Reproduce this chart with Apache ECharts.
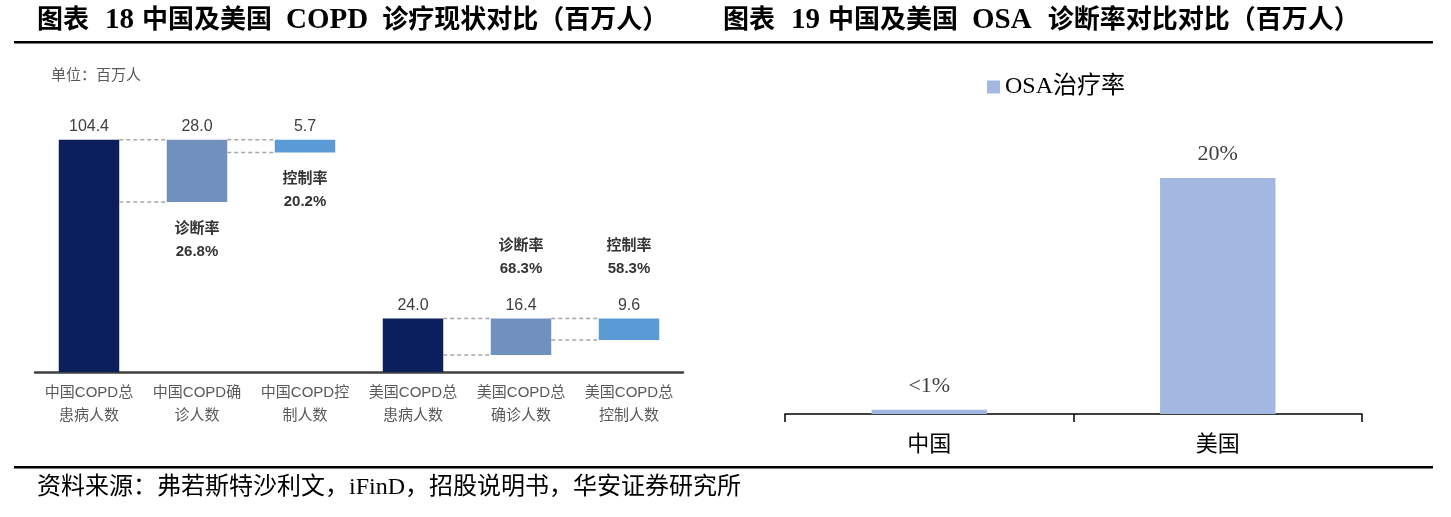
<!DOCTYPE html>
<html><head><meta charset="utf-8">
<script src="https://cdn.jsdelivr.net/npm/echarts@6/dist/echarts.min.js"></script>
<style>html,body{margin:0;padding:0;background:#fff}#c{width:1451px;height:517px}</style>
</head><body><div id="c"></div>
<script>
// ---------------- data ----------------
const copdCategories = ['中国COPD总\n患病人数', '中国COPD确\n诊人数', '中国COPD控\n制人数', '美国COPD总\n患病人数', '美国COPD总\n确诊人数', '美国COPD总\n控制人数'];
const copdValues = [104.4, 28.0, 5.7, 24.0, 16.4, 9.6];
const copdGroups = ['中国', '中国', '中国', '美国', '美国', '美国'];
const copdRateNames = ['', '诊断率', '控制率', '', '诊断率', '控制率'];
const copdRateValues = ['', '26.8%', '20.2%', '', '68.3%', '58.3%'];
const copdUnit = '单位：百万人';

const osaCategories = ['中国', '美国'];
const osaValues = [0.35, 20];
const osaLabels = ['<1%', '20%'];
const osaSeriesName = 'OSA治疗率';

const sourceText = '资料来源：弗若斯特沙利文，iFinD，招股说明书，华安证券研究所';

// ---------------- styles ----------------
const SANS = "'Liberation Sans','Noto Sans CJK SC',sans-serif";
const SERIF = "'Liberation Serif','Noto Sans CJK SC',serif";
const BAR_RATIO = 0.56;
const roleColors = ['#0b1f5c', '#7090bd', '#5b9bd5'];

// ---------------- derived waterfall ----------------
const totalIndex = copdGroups.map(g => copdGroups.indexOf(g));
const baseValues = copdValues.map((v, i) => totalIndex[i] === i ? 0 : +(copdValues[totalIndex[i]] - v).toFixed(2));
const maxCopd = Math.max.apply(null, copdValues);
const connectorData = copdValues
  .map((v, i) => [i, copdValues[totalIndex[i]], baseValues[i]])
  .filter(d => totalIndex[d[0]] !== d[0]);

function renderConnector(params, api) {
  const i = api.value(0);
  const top = api.value(1);
  const base = api.value(2);
  const band = api.size([1, 0])[0];
  const half = band * BAR_RATIO / 2;
  const pPrev = api.coord([i - 1, top]);
  const pTop = api.coord([i, top]);
  const pBase = api.coord([i, base]);
  const x1 = pPrev[0] + half, x2 = pTop[0] - half;
  const dash = { stroke: '#a6a6a6', lineWidth: 1.5, lineDash: [4, 3], fill: null };
  const below = copdValues[totalIndex[i]] > maxCopd / 2;
  return {
    type: 'group',
    children: [
      { type: 'line', shape: { x1: x1, y1: pTop[1], x2: x2, y2: pTop[1] }, style: dash },
      { type: 'line', shape: { x1: x1, y1: pBase[1], x2: x2, y2: pBase[1] }, style: dash },
      {
        type: 'text',
        style: {
          text: copdRateNames[i] + '\n' + copdRateValues[i],
          x: pTop[0],
          y: below ? pBase[1] + 15 : pTop[1] - 38,
          align: 'center', textAlign: 'center',
          verticalAlign: below ? 'top' : 'bottom', textVerticalAlign: below ? 'top' : 'bottom',
          fontSize: 15, fontWeight: 'bold', fontFamily: SANS,
          lineHeight: 23, fill: '#333333'
        }
      }
    ]
  };
}

const chart = echarts.init(document.getElementById('c'), null, { renderer: 'canvas' });

const titleRich = {
  c: { fontSize: 26, fontWeight: 'bold', fontFamily: SERIF, fill: '#000', color: '#000' },
  l: { fontSize: 29, fontWeight: 'bold', fontFamily: 'Liberation Serif', fill: '#000', color: '#000' },
  s1: { width: 16 }, s2: { width: 8 }, s3: { width: 14 }
};

const option = {
  animation: false,
  backgroundColor: '#ffffff',
  grid: [
    { left: 35, top: 105, width: 648, height: 267 },
    { left: 785, top: 119, width: 577, height: 295 }
  ],
  legend: {
    data: [osaSeriesName],
    left: 982, top: 70,
    icon: 'rect', itemWidth: 13, itemHeight: 13,
    textStyle: { fontFamily: SERIF, fontSize: 24, color: '#000', lineHeight: 24 }
  },
  xAxis: [
    {
      gridIndex: 0, type: 'category', data: copdCategories,
      axisLine: { lineStyle: { color: '#404040', width: 2.5 } },
      axisTick: { show: false },
      axisLabel: { margin: 9, fontSize: 15, lineHeight: 23, color: '#595959', fontFamily: SANS, interval: 0 }
    },
    {
      gridIndex: 1, type: 'category', data: osaCategories,
      axisLine: { lineStyle: { color: '#000', width: 1.5 } },
      axisTick: { show: true, length: 8, lineStyle: { color: '#000', width: 1.5 } },
      axisLabel: { margin: 20, fontSize: 22, color: '#000', fontFamily: SERIF }
    }
  ],
  yAxis: [
    { gridIndex: 0, type: 'value', min: 0, max: 120, show: false },
    { gridIndex: 1, type: 'value', min: 0, max: 25, show: false }
  ],
  series: [
    {
      type: 'bar', xAxisIndex: 0, yAxisIndex: 0, stack: 'wf', silent: true,
      barWidth: (BAR_RATIO * 100) + '%',
      itemStyle: { color: 'rgba(0,0,0,0)' },
      data: baseValues
    },
    {
      type: 'bar', xAxisIndex: 0, yAxisIndex: 0, stack: 'wf',
      barWidth: (BAR_RATIO * 100) + '%',
      data: copdValues.map((v, i) => ({ value: v, itemStyle: { color: roleColors[i - totalIndex[i]] } })),
      label: {
        show: true, position: 'top', distance: 5,
        fontSize: 16, color: '#404040', fontFamily: SANS,
        formatter: p => p.value.toFixed(1)
      }
    },
    {
      type: 'custom', xAxisIndex: 0, yAxisIndex: 0, silent: true,
      renderItem: renderConnector,
      encode: { x: 0, y: [1, 2] },
      data: connectorData, z: 5
    },
    {
      name: osaSeriesName, type: 'bar', xAxisIndex: 1, yAxisIndex: 1,
      barWidth: '40%',
      itemStyle: { color: '#a2b8e0' },
      data: osaValues,
      label: {
        show: true, position: 'top', distance: 13,
        fontSize: 22, color: '#404040', fontFamily: SERIF,
        formatter: p => osaLabels[p.dataIndex]
      }
    }
  ],
  graphic: [
    { type: 'rect', shape: { x: 14, y: 41, width: 1419, height: 2.5 }, style: { fill: '#000' }, silent: true },
    { type: 'rect', shape: { x: 14, y: 466, width: 1419, height: 2.5 }, style: { fill: '#000' }, silent: true },
    {
      type: 'text', x: 37, y: 21, silent: true,
      style: {
        text: '{c|图表}{s1| }{l|18}{s2| }{c|中国及美国}{s3| }{l|COPD}{s3| }{c|诊疗现状对比（百万人）}',
        rich: titleRich, verticalAlign: 'middle', fontSize: 26, fill: '#000'
      }
    },
    {
      type: 'text', x: 723, y: 21, silent: true,
      style: {
        text: '{c|图表}{s1| }{l|19}{s2| }{c|中国及美国}{s3| }{l|OSA}{s1| }{c|诊断率对比对比（百万人）}',
        rich: titleRich, verticalAlign: 'middle', fontSize: 26, fill: '#000'
      }
    },
    {
      type: 'text', x: 51, y: 76, silent: true,
      style: { text: copdUnit, fontSize: 15, fontFamily: SANS, fill: '#595959', verticalAlign: 'middle' }
    },
    {
      type: 'text', x: 37, y: 488, silent: true,
      style: { text: sourceText, fontSize: 24, fontFamily: SERIF, fill: '#000', verticalAlign: 'middle' }
    }
  ]
};
chart.setOption(option);
</script>
</body></html>
